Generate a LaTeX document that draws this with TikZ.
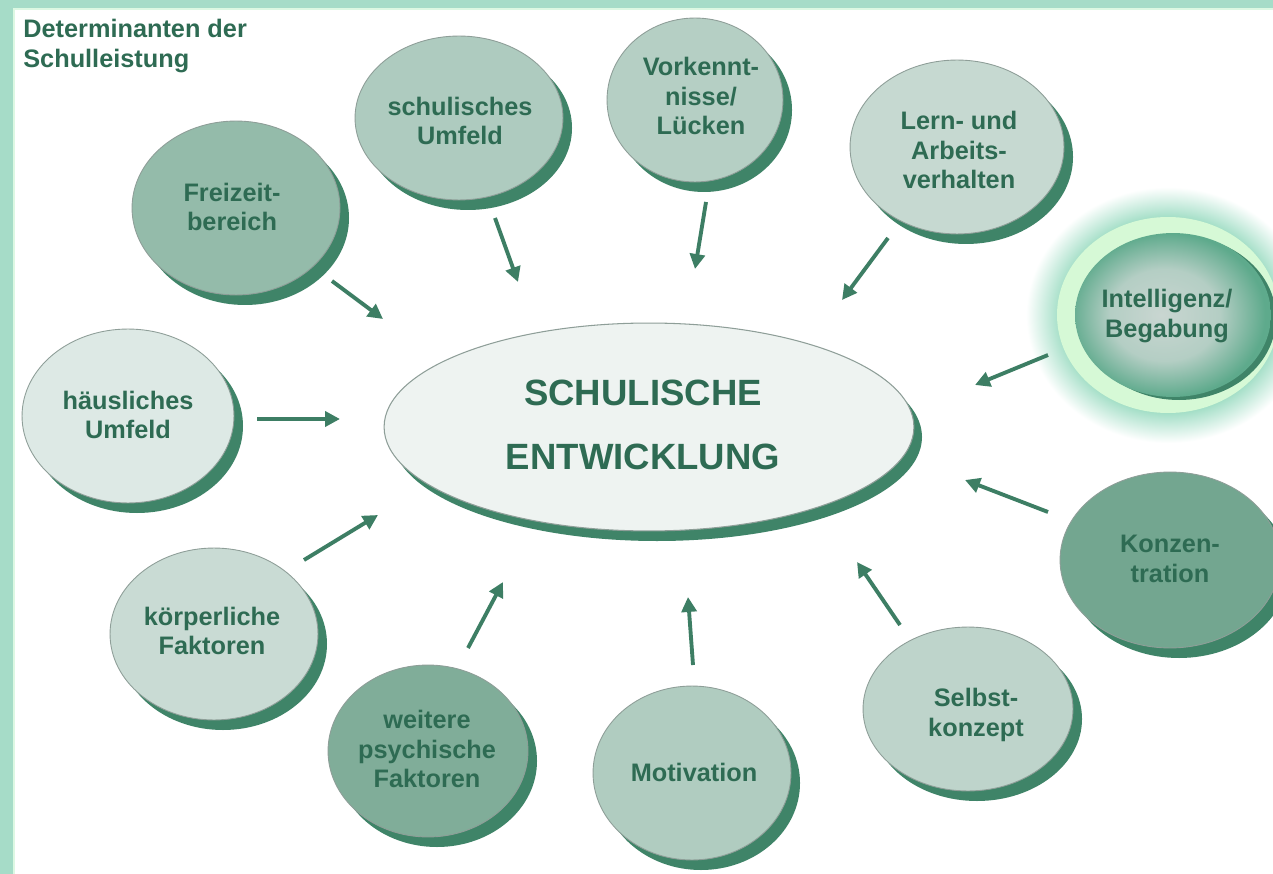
\documentclass[tikz,border=0pt]{standalone}
\usepackage{fontspec}
\setmainfont{Liberation Sans}
\usetikzlibrary{shapes.geometric,arrows.meta}

\definecolor{framec}{HTML}{A6DCC8}
\definecolor{framel}{HTML}{DDF8E3}
\definecolor{txt}{HTML}{2E6B53}
\definecolor{arr}{HTML}{3D7E64}
\definecolor{shd}{HTML}{3F8468}
\definecolor{rim}{HTML}{8E9E98}
\definecolor{cFrei}{HTML}{94BBAA}
\definecolor{cWeit}{HTML}{80AD99}
\definecolor{cKonz}{HTML}{73A690}
\definecolor{cSchu}{HTML}{AECBBF}
\definecolor{cVork}{HTML}{B5CFC4}
\definecolor{cMoti}{HTML}{B0CCC0}
\definecolor{cLern}{HTML}{C6D9D1}
\definecolor{cKoer}{HTML}{C9DBD4}
\definecolor{cSelb}{HTML}{BED4CB}
\definecolor{cHaus}{HTML}{DDE9E5}
\definecolor{ctr}{HTML}{EEF3F1}
\definecolor{glowc}{HTML}{A2DEC6}
\definecolor{ringc}{HTML}{D6F9D6}
\definecolor{intin}{HTML}{C9D6D1}
\definecolor{intmid}{HTML}{B4CEC4}
\definecolor{intout}{HTML}{5EAA8C}

\pgfdeclareradialshading{glowshade}{\pgfpoint{0bp}{0bp}}{color(0bp)=(glowc); color(19bp)=(glowc); color(25bp)=(white); color(50bp)=(white)}
\pgfdeclareradialshading{intshade}{\pgfpoint{-3bp}{0bp}}{color(0bp)=(intin); color(14bp)=(intmid); color(25bp)=(intout); color(50bp)=(intout)}

\newcommand\Blob[6]{%
  \fill[shd] (#2+9,#3+10) ellipse [x radius=#4, y radius=#5];
  \node[blobnode, fill=#6, minimum width=#4*0.04cm, minimum height=#5*0.04cm] (#1) at (#2,#3) {};
}

\begin{document}
\begin{tikzpicture}[x=0.02cm,y=-0.02cm,
  blobnode/.style={ellipse, draw=rim, line width=0.5pt, inner sep=0pt, outer sep=0pt},
  lbl/.style={align=center, text=txt, font=\fontsize{14.4}{17}\selectfont\bfseries, inner sep=0pt},
  biglbl/.style={align=center, text=txt, font=\fontsize{20.8}{36.8}\selectfont\bfseries, inner sep=0pt},
  infl/.style={draw=arr, line width=2.2pt, -{Triangle[length=8.5pt,width=8.5pt]}}
]
\useasboundingbox (0,0) rectangle (1273,874);
\clip (0,0) rectangle (1273,874);
\fill[white] (0,0) rectangle (1273,874);
% frame
\fill[framec] (0,0) rectangle (13,874);
\fill[framec] (0,0) rectangle (1273,8);
\fill[framel] (13,8) rectangle (15,874);
\fill[framel] (13,8) rectangle (1273,10);

% title
\node[lbl, align=left, anchor=north west] (title) at (23,19) {Determinanten der\\Schulleistung};

% glow of highlighted circle
\shade[shading=glowshade] (1168,315) ellipse [x radius=142, y radius=128];
\fill[ringc] (1168,315) ellipse [x radius=111, y radius=98];
\fill[shd] (1179,318) ellipse [x radius=97, y radius=82];
\node[ellipse, inner sep=0pt, minimum width=98*0.04cm, minimum height=82*0.04cm, shading=intshade] (intel) at (1173,315) {};

% circles
\Blob{freizeit}{236}{208}{104}{87}{cFrei}
\Blob{schulumf}{459}{118}{104}{82}{cSchu}
\Blob{vorkennt}{695}{100}{88}{82}{cVork}
\Blob{lern}{957}{147}{107}{87}{cLern}
\Blob{haeusl}{128}{416}{106}{87}{cHaus}
\Blob{koerper}{214}{634}{104}{86}{cKoer}
\Blob{weitere}{428}{751}{100}{86}{cWeit}
\Blob{motiv}{692}{773}{99}{87}{cMoti}
\Blob{selbst}{968}{709}{105}{82}{cSelb}
\Blob{konz}{1170}{560}{110}{88}{cKonz}

% centre ellipse
\fill[shd] (657,437) ellipse [x radius=265, y radius=104];
\node[ellipse, draw=rim, line width=0.6pt, fill=ctr, inner sep=0pt, minimum width=265*0.04cm, minimum height=104*0.04cm] (centre) at (649,427) {};

% labels
\node[lbl] (freizeit-t) at (232,207) {Freizeit-\\bereich};
\node[lbl] (schulumf-t) at (460,121) {schulisches\\Umfeld};
\node[lbl] (vorkennt-t) at (701,96) {Vorkennt-\\nisse/\\Lücken};
\node[lbl] (lern-t) at (959,150) {Lern- und\\Arbeits-\\verhalten};
\node[lbl] (intel-t) at (1167,316) {Intelligenz/\\Begabung};
\node[lbl] (konz-t) at (1170,559) {Konzen-\\tration};
\node[lbl] (selbst-t) at (976,715) {Selbst-\\konzept};
\node[lbl] (motiv-t) at (694,772) {Motivation};
\node[lbl] (weitere-t) at (427,749) {weitere\\psychische\\Faktoren};
\node[lbl] (koerper-t) at (212,631) {körperliche\\Faktoren};
\node[lbl] (haeusl-t) at (128,415) {häusliches\\Umfeld};
\node[biglbl] (centre-t) at (643,425) {SCHULISCHE\\ENTWICKLUNG};

% arrow end points
\coordinate (freizeit-o) at (332,281); \coordinate (centre-i1) at (383,319);
\coordinate (haeusl-o) at (257,419);   \coordinate (centre-i2) at (340,419);
\coordinate (schulumf-o) at (495,218); \coordinate (centre-i3) at (518,282);
\coordinate (vorkennt-o) at (706,202); \coordinate (centre-i4) at (695,269);
\coordinate (lern-o) at (888,238);     \coordinate (centre-i5) at (842,300);
\coordinate (intel-o) at (1048,355);   \coordinate (centre-i6) at (975,385);
\coordinate (konz-o) at (1048,512);    \coordinate (centre-i7) at (965,480);
\coordinate (selbst-o) at (900,625);   \coordinate (centre-i8) at (857,562);
\coordinate (motiv-o) at (693,665);    \coordinate (centre-i9) at (688,597);
\coordinate (weitere-o) at (468,648);  \coordinate (centre-i10) at (503,582);
\coordinate (koerper-o) at (304,560);  \coordinate (centre-i11) at (378,515);

\draw[infl] (freizeit-o) -- (centre-i1);
\draw[infl] (haeusl-o) -- (centre-i2);
\draw[infl] (schulumf-o) -- (centre-i3);
\draw[infl] (vorkennt-o) -- (centre-i4);
\draw[infl] (lern-o) -- (centre-i5);
\draw[infl] (intel-o) -- (centre-i6);
\draw[infl] (konz-o) -- (centre-i7);
\draw[infl] (selbst-o) -- (centre-i8);
\draw[infl] (motiv-o) -- (centre-i9);
\draw[infl] (weitere-o) -- (centre-i10);
\draw[infl] (koerper-o) -- (centre-i11);
\end{tikzpicture}
\end{document}
